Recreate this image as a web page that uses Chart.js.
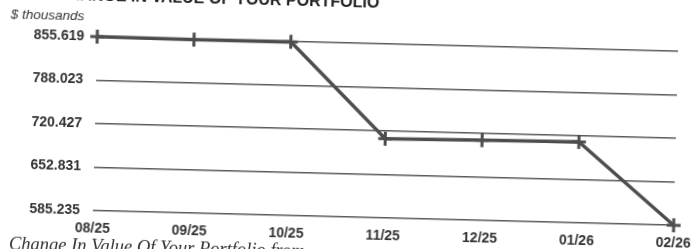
<!DOCTYPE html>
<html>
<head>
<meta charset="utf-8">
<script src="https://cdn.jsdelivr.net/npm/chart.js@4.4.1/dist/chart.umd.min.js"></script>
<style>
  html, body { margin: 0; padding: 0; background: #fff; overflow: hidden; }
  body { width: 694px; height: 249px; position: relative; }
  #sheet {
    position: absolute; left: 0; top: 0; width: 694px; height: 249px;
    transform: rotate(1.45deg); transform-origin: 386px 129px;
  }
  #title {
    position: absolute; left: 54px; top: -6px; white-space: nowrap;
    font: bold 16px "Liberation Sans", Arial, sans-serif; color: #222;
  }
  #unit {
    position: absolute; left: 8px; top: 16px; white-space: nowrap;
    font: italic 13.5px "Liberation Sans", Arial, sans-serif; color: #333;
  }
  #caption {
    position: absolute; left: 12px; top: 243px; white-space: nowrap;
    font: italic 18.5px "Liberation Serif", "Times New Roman", serif; color: #333;
  }
  #wrap { position: absolute; left: 0; top: -30px; width: 694px; height: 300px; }
</style>
</head>
<body>
<div id="sheet">
  <div id="wrap"><canvas id="portfolioChart" width="694" height="300"></canvas></div>
  <div id="title">CHANGE IN VALUE OF YOUR PORTFOLIO</div>
  <div id="unit">$ thousands</div>
  <div id="caption">Change In Value Of Your Portfolio from</div>
</div>
<script>
// values in $ thousands
const months = ['08/25', '09/25', '10/25', '11/25', '12/25', '01/26', '02/26'];
const portfolioValues = [855.619, 854.8, 855.2, 708.3, 709.8, 711.2, 585.235];
const yTicks = [585.235, 652.831, 720.427, 788.023, 855.619];

document.addEventListener("DOMContentLoaded", function () {
    const ctx = document.getElementById('portfolioChart');

    new Chart(ctx, {
        type: 'line',
        data: {
            labels: months,
            datasets: [{
                label: 'Portfolio value',
                data: portfolioValues,
                borderColor: '#4d4d4d',
                borderWidth: 3.5,
                tension: 0,
                fill: false,
                pointStyle: 'cross',
                pointRadius: 7,
                pointBorderWidth: 3,
                pointBorderColor: '#4d4d4d',
                clip: false
            }]
        },
        options: {
            responsive: false,
            devicePixelRatio: 1,
            animation: false,
            layout: { padding: { top: 74, right: 18, left: 0, bottom: 0 } },
            scales: {
                x: {
                    offset: false,
                    grid: { display: false, drawTicks: false },
                    border: { display: false },
                    ticks: {
                        padding: 10,
                        maxRotation: 0,
                        color: '#333',
                        font: { family: 'Liberation Sans', size: 14, weight: 'bold' }
                    },
                    afterFit: function (scale) {
                        scale.height = 52;
                        // let the end labels overhang instead of shrinking the plot
                        scale.paddingLeft = 0;
                        scale.paddingRight = 0;
                    }
                },
                y: {
                    min: yTicks[0],
                    max: yTicks[yTicks.length - 1],
                    grid: { color: '#5a5a5a', lineWidth: 1.5, drawTicks: false },
                    border: { display: false },
                    afterBuildTicks: function (scale) {
                        scale.ticks = yTicks.map(v => ({ value: v }));
                    },
                    ticks: {
                        padding: 13,
                        color: '#333',
                        font: { family: 'Liberation Sans', size: 14, weight: 'bold' },
                        callback: function (v) { return Number(v).toFixed(3); }
                    },
                    afterFit: function (scale) { scale.width = 95; }
                }
            },
            plugins: {
                legend: { display: false },
                tooltip: { enabled: false }
            }
        }
    });
});
</script>
</body>
</html>
